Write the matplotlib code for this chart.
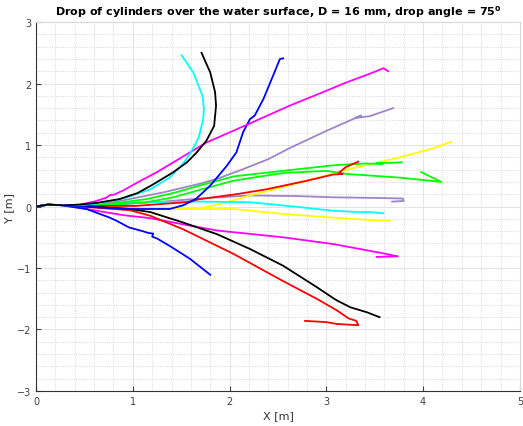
import matplotlib.pyplot as plt
from matplotlib.ticker import MultipleLocator

# trajectories (X [m], Y [m])
start_x = [0.0, 0.12, 0.3]
start_y = [0.0, 0.03, 0.02]

cyan_up_x = [0.45, 0.63, 0.9, 1.18, 1.38, 1.52, 1.60, 1.68, 1.725, 1.735, 1.72, 1.625, 1.505]
cyan_up_y = [0.02, 0.05, 0.13, 0.28, 0.47, 0.70, 0.88, 1.12, 1.40, 1.59, 1.80, 2.18, 2.46]

black_up_x = [0.45, 0.63, 0.86, 1.05, 1.21, 1.42, 1.56, 1.66, 1.76, 1.84, 1.86, 1.85, 1.80, 1.71]
black_up_y = [0.03, 0.06, 0.12, 0.22, 0.36, 0.56, 0.72, 0.88, 1.07, 1.31, 1.64, 1.86, 2.18, 2.50]

magenta_up_x = [0.45, 0.60, 0.72, 0.77, 0.80, 0.90, 1.07, 1.25, 1.42, 1.76, 2.18, 2.62, 2.95, 3.21, 3.45, 3.59, 3.64]
magenta_up_y = [0.03, 0.08, 0.14, 0.19, 0.19, 0.26, 0.41, 0.56, 0.72, 1.04, 1.33, 1.64, 1.85, 2.02, 2.16, 2.25, 2.20]

blue_up_x = [0.45, 0.7, 1.03, 1.38, 1.52, 1.65, 1.80, 1.97, 2.07, 2.14, 2.21, 2.26, 2.35, 2.45, 2.52, 2.555]
blue_up_y = [0.01, -0.02, -0.04, -0.04, 0.02, 0.12, 0.34, 0.66, 0.88, 1.21, 1.42, 1.48, 1.75, 2.13, 2.40, 2.41]

purple_up_x = [0.45, 0.80, 1.315, 1.69, 1.87, 2.11, 2.40, 2.62, 3.0, 3.36, 3.30, 3.45, 3.69]
purple_up_y = [0.03, 0.07, 0.23, 0.37, 0.45, 0.59, 0.77, 0.95, 1.23, 1.48, 1.44, 1.47, 1.60]

purple_flat_x = [0.45, 0.9, 1.315, 1.69, 2.21, 2.7, 3.07, 3.5, 3.79, 3.80, 3.68]
purple_flat_y = [0.02, 0.04, 0.08, 0.13, 0.18, 0.17, 0.15, 0.14, 0.13, 0.09, 0.08]

green_a_x = [0.45, 0.8, 1.14, 1.42, 1.69, 2.04, 2.55, 3.07, 3.4, 3.58, 3.52, 3.66, 3.78]
green_a_y = [0.02, 0.05, 0.12, 0.22, 0.34, 0.49, 0.58, 0.67, 0.70, 0.69, 0.71, 0.71, 0.72]

green_b_x = [0.45, 0.8, 1.14, 1.42, 1.69, 2.04, 2.55, 3.0, 3.21, 3.76, 4.19, 3.98]
green_b_y = [0.01, 0.03, 0.07, 0.15, 0.27, 0.42, 0.545, 0.58, 0.53, 0.47, 0.40, 0.56]

red_up_x = [0.45, 1.03, 1.55, 1.69, 2.07, 2.38, 2.80, 3.07, 3.17, 3.13, 3.20, 3.33]
red_up_y = [0.01, 0.01, 0.07, 0.12, 0.20, 0.28, 0.42, 0.52, 0.53, 0.55, 0.64, 0.73]

yellow_up_x = [0.45, 1.03, 1.315, 1.55, 1.69, 1.90, 2.21, 2.73, 3.24, 3.76, 4.07, 4.29]
yellow_up_y = [0.0, -0.02, -0.03, -0.04, -0.03, 0.04, 0.18, 0.39, 0.61, 0.80, 0.93, 1.05]

cyan_flat_x = [0.45, 1.18, 1.69, 2.21, 2.73, 3.07, 3.35, 3.45, 3.59]
cyan_flat_y = [0.02, 0.07, 0.08, 0.07, -0.01, -0.07, -0.09, -0.09, -0.11]

yellow_flat_x = [0.45, 1.03, 1.55, 2.04, 2.55, 3.07, 3.35, 3.45, 3.66]
yellow_flat_y = [0.0, -0.03, -0.04, -0.04, -0.12, -0.18, -0.21, -0.22, -0.23]

magenta_down_x = [0.45, 0.63, 0.9, 1.18, 1.52, 1.87, 2.55, 3.07, 3.55, 3.74, 3.52]
magenta_down_y = [-0.02, -0.07, -0.14, -0.19, -0.29, -0.39, -0.50, -0.61, -0.75, -0.81, -0.82]

blue_down_x = [0.3, 0.52, 0.76, 0.83, 0.96, 1.10, 1.16, 1.21, 1.20, 1.25, 1.38, 1.59, 1.80]
blue_down_y = [0.01, -0.04, -0.18, -0.23, -0.34, -0.40, -0.43, -0.44, -0.49, -0.52, -0.64, -0.85, -1.11]

black_down_x = [0.45, 0.97, 1.18, 1.52, 1.87, 2.21, 2.55, 2.90, 3.10, 3.25, 3.42, 3.55]
black_down_y = [0.01, -0.04, -0.09, -0.26, -0.45, -0.69, -0.96, -1.31, -1.52, -1.64, -1.72, -1.80]

red_down_x = [0.45, 0.97, 1.18, 1.52, 2.04, 2.55, 2.90, 3.11, 3.23, 3.31, 3.33, 3.11, 3.0, 2.78]
red_down_y = [0.0, -0.06, -0.15, -0.37, -0.77, -1.21, -1.50, -1.69, -1.82, -1.86, -1.93, -1.91, -1.88, -1.86]

purple = (0.62, 0.52, 0.78)
curves = [
    (purple_flat_x, purple_flat_y, purple),
    (purple_up_x, purple_up_y, purple),
    (yellow_flat_x, yellow_flat_y, 'yellow'),
    (yellow_up_x, yellow_up_y, 'yellow'),
    (cyan_flat_x, cyan_flat_y, 'cyan'),
    (green_a_x, green_a_y, 'lime'),
    (green_b_x, green_b_y, 'lime'),
    (red_up_x, red_up_y, 'red'),
    (magenta_down_x, magenta_down_y, 'magenta'),
    (red_down_x, red_down_y, 'red'),
    (black_down_x, black_down_y, 'black'),
    (blue_down_x, blue_down_y, 'blue'),
    (blue_up_x, blue_up_y, 'blue'),
    (magenta_up_x, magenta_up_y, 'magenta'),
    (cyan_up_x, cyan_up_y, 'cyan'),
    (black_up_x, black_up_y, 'black'),
]

fig = plt.figure(figsize=(5.23, 4.27), dpi=100)
ax = fig.add_axes([0.069, 0.082, 0.925, 0.864])

for xs, ys, c in curves:
    ax.plot(start_x + xs, start_y + ys, color=c, linewidth=1.3)

ax.set_xlim(0, 5)
ax.set_ylim(-3, 3)
ax.xaxis.set_major_locator(MultipleLocator(1))
ax.yaxis.set_major_locator(MultipleLocator(1))
ax.xaxis.set_minor_locator(MultipleLocator(0.2))
ax.yaxis.set_minor_locator(MultipleLocator(0.2))
ax.grid(True, which='major', color='0.87', linewidth=0.6)
ax.grid(True, which='minor', color='0.8', linestyle=':', linewidth=0.6)
ax.set_axisbelow(True)

ax.tick_params(which='major', direction='in', length=3.5, labelsize=7,
               colors='0.25', top=False, right=False)
ax.tick_params(which='minor', length=0)
for s in ['left', 'bottom']:
    ax.spines[s].set_color('0.2')
for s in ['top', 'right']:
    ax.spines[s].set_color('0.85')

ax.set_title("Drop of cylinders over the water surface, D = 16 mm, drop angle = 75$^\\mathregular{o}$",
             fontsize=8, fontweight='bold', pad=6)
ax.set_xlabel("X [m]", fontsize=8, color='0.2', labelpad=3)
ax.set_ylabel("Y [m]", fontsize=8, color='0.2', labelpad=2)

fig.savefig("out.png", dpi=100)
